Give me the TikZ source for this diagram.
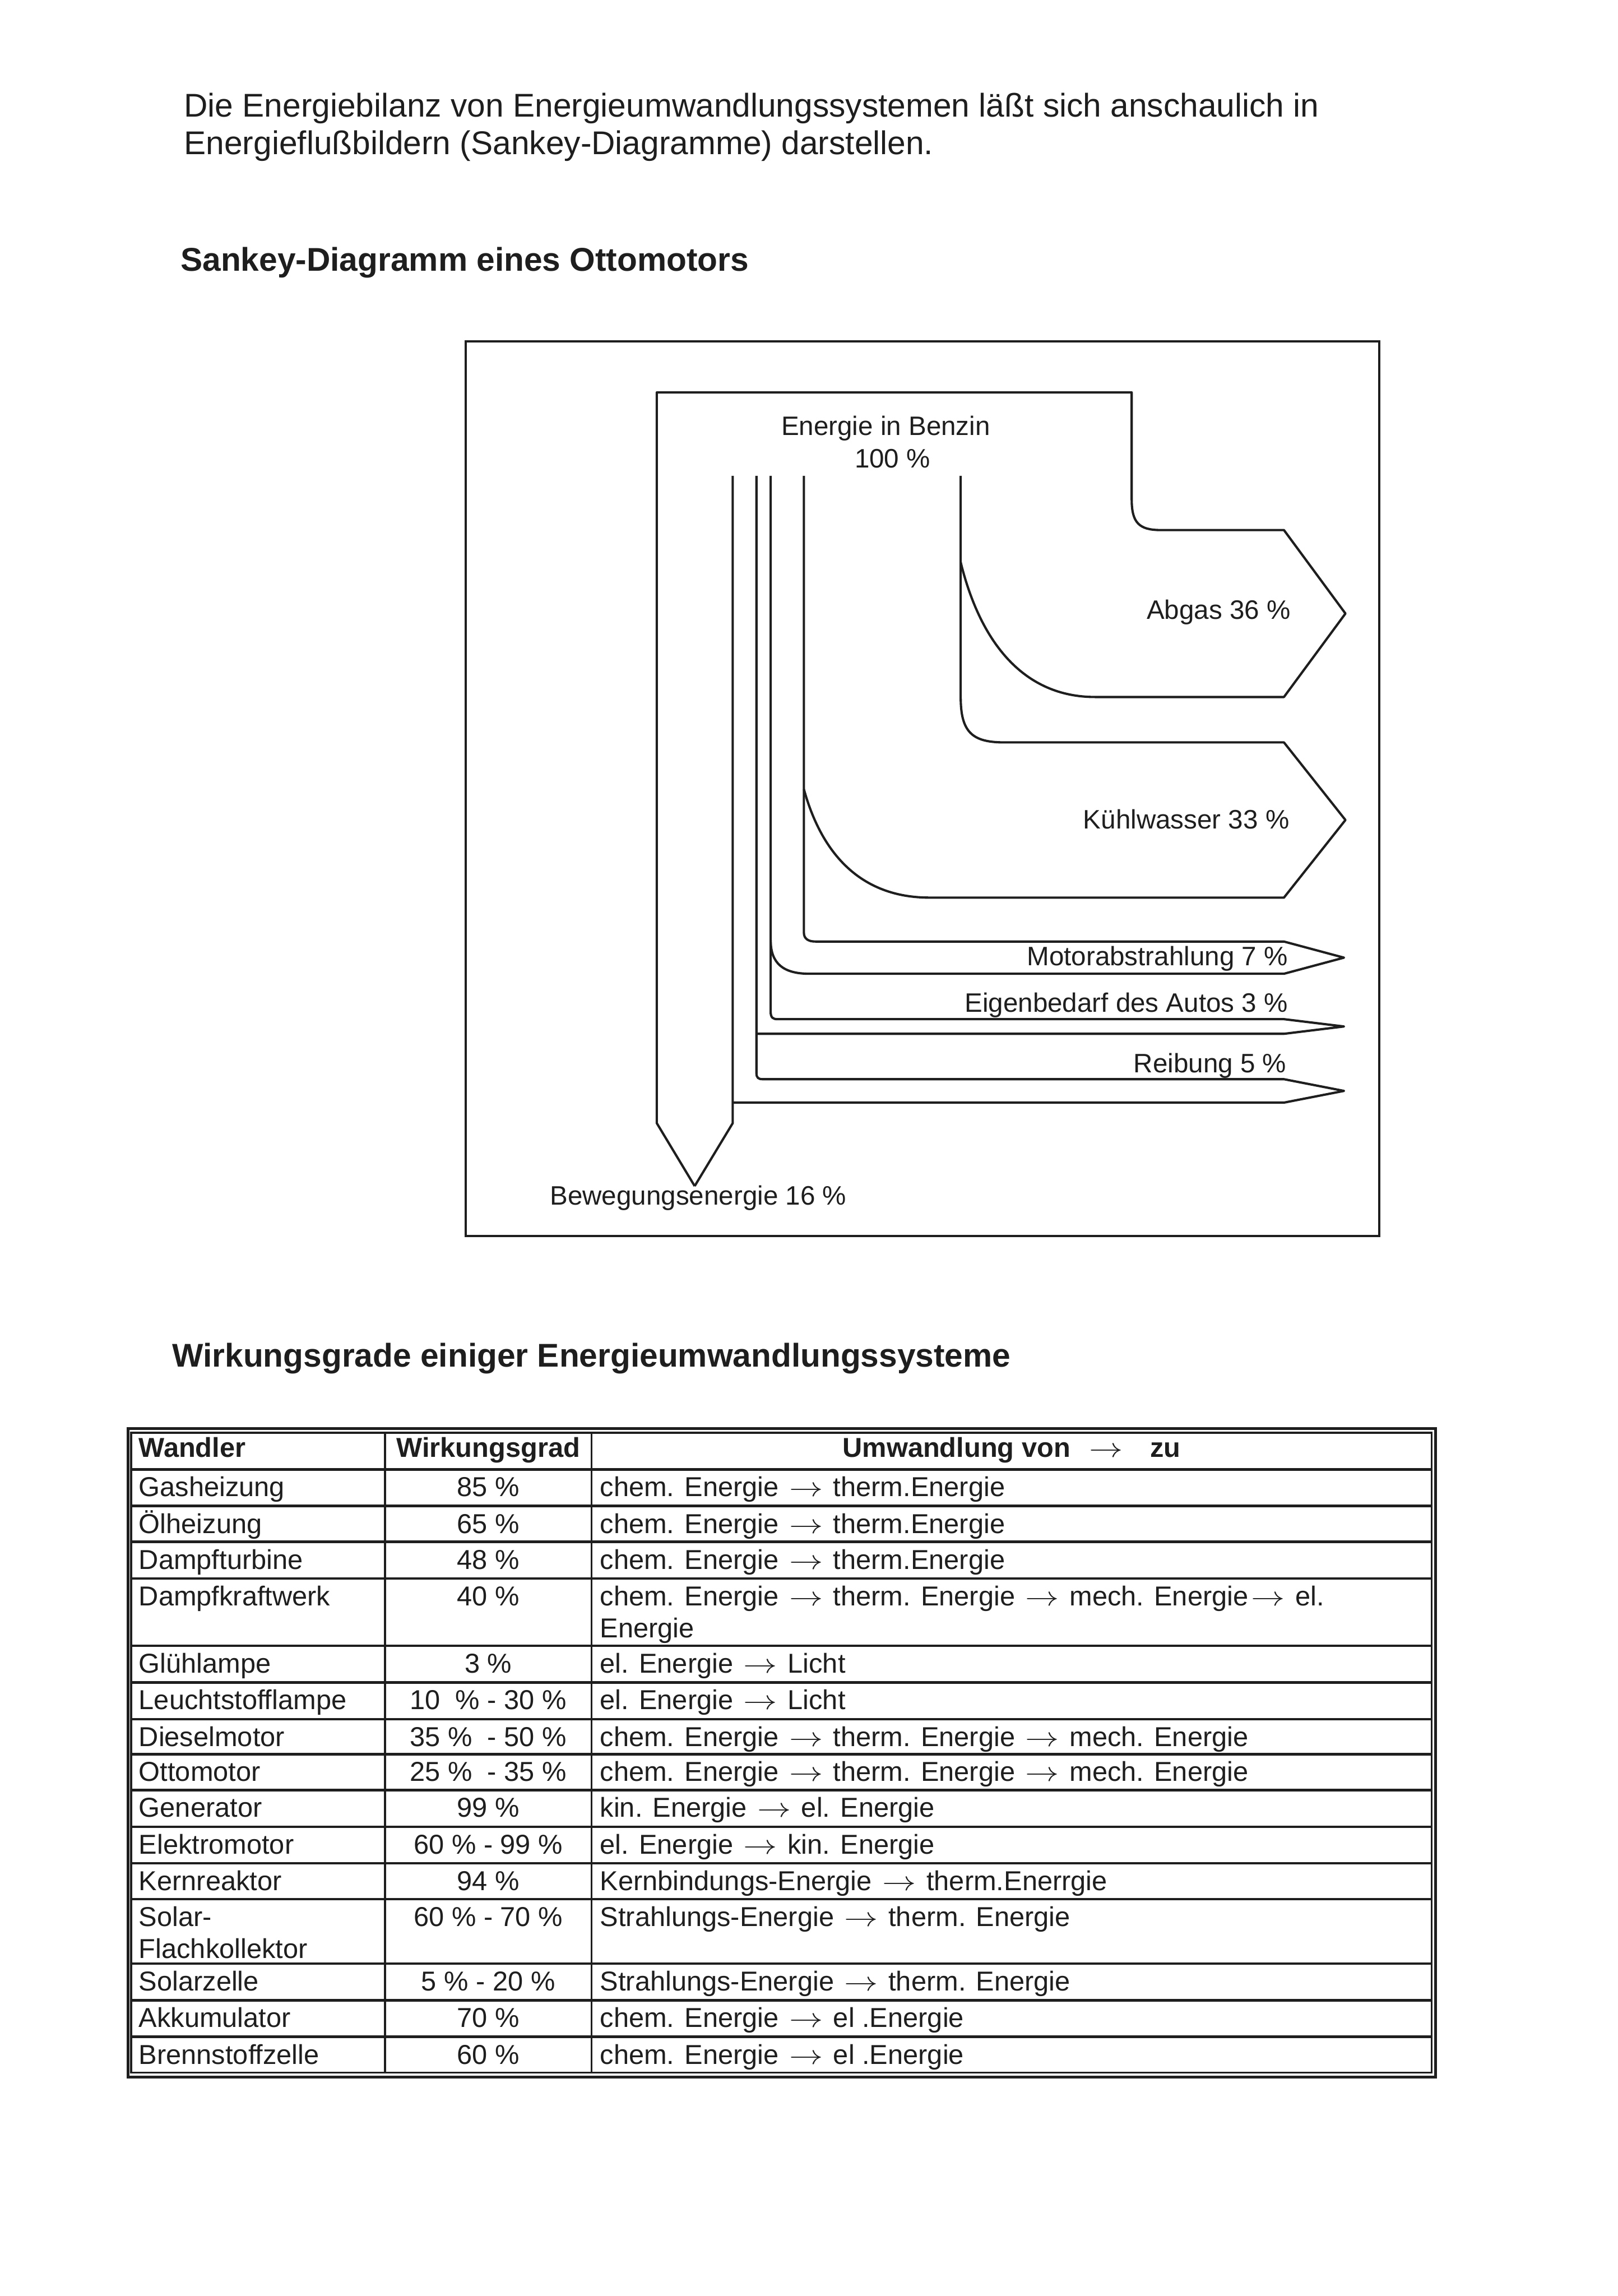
\documentclass[tikz,border=0pt]{standalone}
\usepackage{fontspec}
\usepackage{graphicx}
\setmainfont{Liberation Sans}
\usetikzlibrary{positioning,calc}
\definecolor{ink}{HTML}{1E1E1E}
\newcommand{\pfeil}{\hspace{.1em}\scalebox{1.25}[1]{$\rightarrow$}\hspace{.1em}}

\begin{document}
\begin{tikzpicture}[
  x=0.019005cm,y=-0.019005cm,
  body/.style={font=\fontsize{12.15}{14.1}\selectfont,text=ink,inner sep=0pt,anchor=base west},
  heading/.style={font=\bfseries\fontsize{12.15}{14.1}\selectfont,text=ink,inner sep=0pt,anchor=base west},
  flowlabel/.style={font=\fontsize{9.85}{11.8}\selectfont,text=ink,inner sep=0pt},
  flow/.style={draw=ink,line width=.85pt,line join=round},
  frame/.style={draw=ink,line width=.8pt},
  cell/.style={font=\fontsize{10.1}{12}\selectfont,text=ink,inner sep=0pt,anchor=base west},
  cellhead/.style={font=\bfseries\fontsize{10.1}{12}\selectfont,text=ink,inner sep=0pt},
  hrule/.style={draw=ink,line width=.95pt},
  vrule/.style={draw=ink,line width=.7pt}
]
\fill[white] (0,0) rectangle (1105,1568);
\useasboundingbox (0,0) rectangle (1105,1568);

% intro text
\node[body] (intro1) at (125.4,80) {Die Energiebilanz von Energieumwandlungssystemen läßt sich anschaulich in};
\node[body] (intro2) at (125.4,105.5) {Energieflußbildern (Sankey-Diagramme) darstellen.};
\node[heading] (sankeytitle) at (123,185) {Sankey-Diagramm eines Ottomotors};

% Sankey frame
\draw[frame] (318,233) rectangle (942,844);

% main band and Abgas branch
\draw[flow] (474.5,810) -- (448.6,767) -- (448.6,268) -- (773,268) -- (773,341)
  .. controls (773,357) and (778,362) .. (793,362) -- (877,362) -- (919,419) -- (877,476) -- (748,476)
  .. controls (700,476) and (670,440) .. (656.2,384);

% Kuehlwasser branch
\draw[flow] (656.2,325) -- (656.2,476) .. controls (656.2,500) and (664,507) .. (686,507)
  -- (877,507) -- (919,560) -- (877,613) -- (635,613)
  .. controls (587,613) and (561,582) .. (549.1,539);

% Motorabstrahlung branch
\draw[flow] (549.1,325) -- (549.1,637) .. controls (549.1,641) and (552,643) .. (557,643)
  -- (877,643) -- (918,654) -- (877,665) -- (553,665)
  .. controls (535,665) and (526.4,658) .. (526.4,642);

% Eigenbedarf branch
\draw[flow] (526.4,325) -- (526.4,691) .. controls (526.4,695) and (528,696) .. (531,696)
  -- (877,696) -- (918,701) -- (877,706) -- (516.7,706);

% Reibung branch
\draw[flow] (516.7,325) -- (516.7,733) .. controls (516.7,736) and (518,737) .. (521,737)
  -- (877,737) -- (918,745) -- (877,753) -- (500.5,753);

% Bewegungsenergie
\draw[flow] (500.5,325) -- (500.5,767) -- (474.5,810);

% flow labels
\node[flowlabel,anchor=base] (benzin) at (605,297.3) {Energie in Benzin};
\node[flowlabel,anchor=base] (benzinpct) at (609.6,319.4) {100 \%};
\node[flowlabel,anchor=base east] (abgas) at (881.8,422.9) {Abgas 36 \%};
\node[flowlabel,anchor=base east] (kuehl) at (881,565.8) {Kühlwasser 33 \%};
\node[flowlabel,anchor=base east] (motor) at (880,659.4) {Motorabstrahlung 7 \%};
\node[flowlabel,anchor=base east] (eigen) at (880,691.3) {Eigenbedarf des Autos 3 \%};
\node[flowlabel,anchor=base east] (reib) at (879,732.6) {Reibung 5 \%};
\node[flowlabel,anchor=base west] (beweg) at (375.3,823) {Bewegungsenergie 16 \%};

% table title
\node[heading] (tabletitle) at (117.3,933.5) {Wirkungsgrade einiger Energieumwandlungssysteme};

% table frame and rules
\draw[hrule] (87.4,975.5) rectangle (980.6,1418.5);
\draw[vrule] (89.6,978.5) rectangle (977.8,1415.5);
\foreach \x in {263,404}{\draw[vrule] (\x,978.5) -- (\x,1415.5);}
\foreach \y in {1003.5,1028.5,1053,1078,1124,1149,1174,1198,1222.5,1247.5,1272.5,1297,1341,1366,1391}
  {\draw[hrule] (89.6,\y) -- (977.8,\y);}

% header row
\node[cellhead,anchor=base west] (hwandler) at (94.5,995) {Wandler};
\node[cellhead,anchor=base] (hgrad) at (333.5,995) {Wirkungsgrad};
\node[cellhead,anchor=base] (humw) at (691,995) {Umwandlung von\hspace{6pt}\pfeil\hspace{9pt}zu};

% table rows
\foreach \rowtop/\wand/\grad/\umw [count=\r] in {
  1003.5/Gasheizung/85 \%/chem. Energie \pfeil{} therm.Energie,
  1028.5/Ölheizung/65 \%/chem. Energie \pfeil{} therm.Energie,
  1053/Dampfturbine/48 \%/chem. Energie \pfeil{} therm.Energie,
  1078/Dampfkraftwerk/40 \%/chem. Energie \pfeil{} therm. Energie \pfeil{} mech. Energie\pfeil{} el.,
  1124/Glühlampe/3 \%/el. Energie \pfeil{} Licht,
  1149/Leuchtstofflampe/10~ \% - 30 \%/el. Energie \pfeil{} Licht,
  1174/Dieselmotor/35 \%~ - 50 \%/chem. Energie \pfeil{} therm. Energie \pfeil{} mech. Energie,
  1198/Ottomotor/25 \%~ - 35 \%/chem. Energie \pfeil{} therm. Energie \pfeil{} mech. Energie,
  1222.5/Generator/99 \%/kin. Energie \pfeil{} el. Energie,
  1247.5/Elektromotor/60 \% - 99 \%/el. Energie \pfeil{} kin. Energie,
  1272.5/Kernreaktor/94 \%/Kernbindungs-Energie \pfeil{} therm.Enerrgie,
  1297/Solar-/60 \% - 70 \%/Strahlungs-Energie \pfeil{} therm. Energie,
  1341/Solarzelle/5 \% - 20 \%/Strahlungs-Energie \pfeil{} therm. Energie,
  1366/Akkumulator/70 \%/chem. Energie \pfeil{} el .Energie,
  1391/Brennstoffzelle/60 \%/chem. Energie \pfeil{} el .Energie}{
  \node[cell] (wandler\r) at (94.5,\rowtop+18.5) {\wand};
  \node[cell,anchor=base] (grad\r) at (333.5,\rowtop+18.5) {\grad};
  \node[cell] (umw\r) at (409.5,\rowtop+18.5) {\umw};
}
\node[cell] (umw4b) at (409.5,1118.5) {Energie};
\node[cell] (wandler12b) at (94.5,1337.5) {Flachkollektor};
\end{tikzpicture}
\end{document}
